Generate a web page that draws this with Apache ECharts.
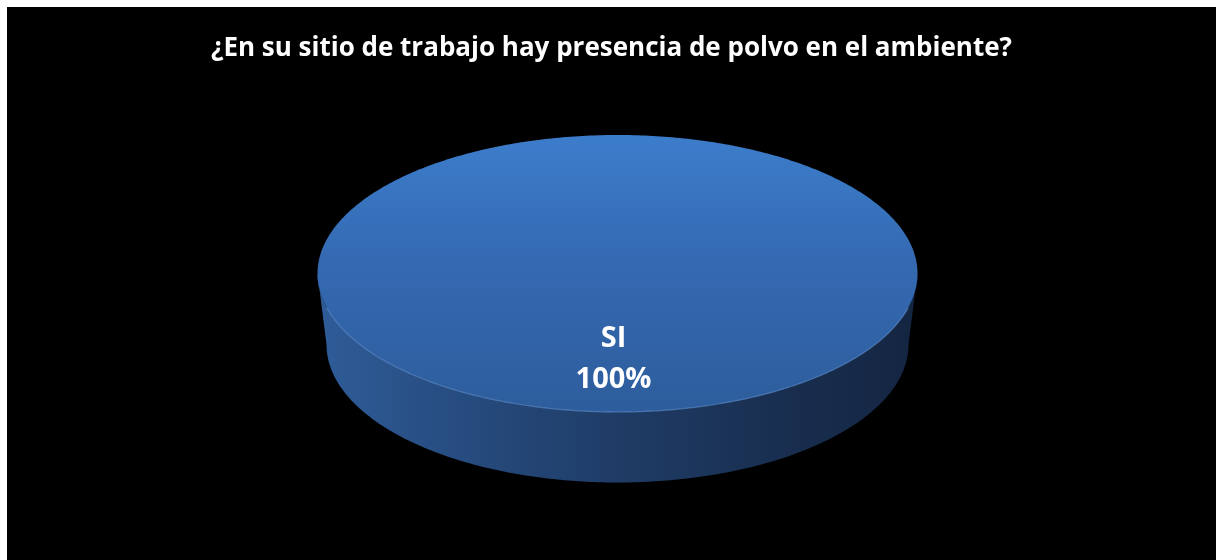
<!DOCTYPE html>
<html>
<head>
<meta charset="utf-8">
<script src="https://cdn.jsdelivr.net/npm/echarts@6/dist/echarts.min.js"></script>
<style>
  html, body { margin: 0; padding: 0; background: #ffffff; width: 1216px; height: 560px; overflow: hidden; }
  #chart { position: absolute; left: 7px; top: 7px; width: 1209px; height: 553px; }
</style>
</head>
<body>
<div id="chart"></div>
<script>
// ---- data ----
const titleText = '¿En su sitio de trabajo hay presencia de polvo en el ambiente?';
const categories = ['SI'];
const values = [100];

// ---- build slices ----
const total = values.reduce((a, b) => a + b, 0);
let cum = 0;
const seriesData = categories.map((name, i) => {
  const start = cum / total;
  cum += values[i];
  return { name: name, value: [values[i], start, cum / total] };
});

const chart = echarts.init(document.getElementById('chart'), null, { renderer: 'canvas' });

const CX = 610.5, CY = 266.5, RX = 300, RY = 138.5, DEPTH = 71, RX2 = 291, RY2 = 138;
function pt(theta, rx, ry, cy) {
  return [CX + rx * Math.cos(theta), cy + ry * Math.sin(theta)];
}

function renderItem(params, api) {
  const v = api.value(0);
  const f0 = api.value(1), f1 = api.value(2);
  const a0 = -Math.PI / 2 + f0 * 2 * Math.PI;
  const a1 = -Math.PI / 2 + f1 * 2 * Math.PI;
  const N = 240;
  const children = [];
  // side (front visible part: theta in [0, PI] modulo 2PI)
  const ranges = [];
  [[0, Math.PI], [2 * Math.PI, 3 * Math.PI], [-2 * Math.PI, -Math.PI]].forEach(r => {
    const s = Math.max(a0, r[0]), e = Math.min(a1, r[1]);
    if (e > s) ranges.push([s, e]);
  });
  ranges.forEach(r => {
    const pts = [];
    for (let k = 0; k <= N; k++) {
      const t = r[0] + (r[1] - r[0]) * k / N;
      pts.push(pt(t, RX, RY, CY));
    }
    for (let k = N; k >= 0; k--) {
      const t = r[0] + (r[1] - r[0]) * k / N;
      pts.push(pt(t, RX2, RY2, CY + DEPTH));
    }
    children.push({
      type: 'polygon',
      shape: { points: pts },
      style: {
        fill: {
          type: 'linear', x: 0, y: 0, x2: 1, y2: 0,
          colorStops: [
            { offset: 0, color: '#2f5c98' },
            { offset: 0.25, color: '#264b7e' },
            { offset: 0.5, color: '#1f3c66' },
            { offset: 0.8, color: '#182d4e' },
            { offset: 1, color: '#142541' }
          ]
        }
      }
    });
  });
  // top face
  const topPts = [];
  const full = (f1 - f0) >= 0.9999;
  if (!full) topPts.push([CX, CY]);
  for (let k = 0; k <= N * 2; k++) {
    const t = a0 + (a1 - a0) * k / (N * 2);
    topPts.push(pt(t, RX, RY, CY));
  }
  children.push({
    type: 'polygon',
    shape: { points: topPts },
    style: {
      fill: {
        type: 'linear', x: 0, y: 0, x2: 0, y2: 1,
        colorStops: [
          { offset: 0, color: '#3c7dcb' },
          { offset: 0.5, color: '#3468b0' },
          { offset: 1, color: '#2d5d9c' }
        ]
      }
    }
  });
  // rim highlight on front edge
  ranges.forEach(r => {
    const pts = [];
    const s = r[0] + 0.25, e = r[1] - 0.25;
    for (let k = 0; k <= N; k++) {
      const t = s + (e - s) * k / N;
      pts.push(pt(t, RX, RY, CY));
    }
    children.push({
      type: 'polyline',
      shape: { points: pts },
      style: { fill: null, stroke: 'rgba(100,150,215,0.6)', lineWidth: 1.2 }
    });
  });
  // label
  const mid = (a0 + a1) / 2;
  const lp = pt(mid, RX * 0.6, RY * 0.6, CY);
  children.push({
    type: 'text',
    x: lp[0] - 4,
    y: lp[1] + 3,
    style: {
      text: categories[params.dataIndex] + '\n' + Math.round(v / total * 100) + '%',
      fill: '#ffffff',
      font: 'bold 29px "Open Sans", sans-serif',
      lineHeight: 41,
      align: 'center',
      verticalAlign: 'middle'
    }
  });
  return { type: 'group', children: children };
}

chart.setOption({
  backgroundColor: '#000000',
  animation: false,
  title: {
    text: titleText,
    left: 'center',
    top: 24,
    textStyle: {
      color: '#ffffff',
      fontFamily: 'Open Sans',
      fontWeight: 'bold',
      fontSize: 26
    }
  },
  series: [{
    type: 'custom',
    coordinateSystem: 'none',
    renderItem: renderItem,
    data: seriesData
  }]
});
</script>
</body>
</html>
